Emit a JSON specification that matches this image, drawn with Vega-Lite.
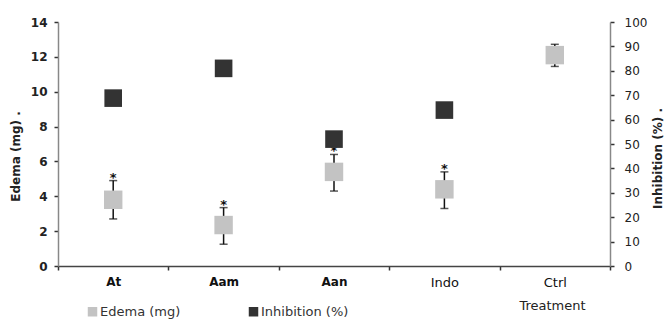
{
  "$schema": "https://vega.github.io/schema/vega-lite/v6.json",
  "width": 552,
  "height": 244,
  "autosize": {"type": "none"},
  "padding": {"left": 58, "top": 22, "right": 58, "bottom": 54},
  "background": "white",
  "config": {
    "view": {"stroke": null},
    "font": "DejaVu Sans",
    "axis": {"grid": false, "labelFont": "DejaVu Sans", "titleFont": "DejaVu Sans"}
  },
  "data": {
    "values": [
      {"treatment": "At", "edema": 3.8, "lo": 2.7, "hi": 4.9, "inhibition": 68.8, "sig": "*"},
      {"treatment": "Aam", "edema": 2.35, "lo": 1.25, "hi": 3.35, "inhibition": 81.0, "sig": "*"},
      {"treatment": "Aan", "edema": 5.4, "lo": 4.3, "hi": 6.4, "inhibition": 52.0, "sig": "*"},
      {"treatment": "Indo", "edema": 4.4, "lo": 3.3, "hi": 5.4, "inhibition": 63.9, "sig": "*"},
      {"treatment": "Ctrl", "edema": 12.1, "lo": 11.45, "hi": 12.72, "inhibition": null, "sig": ""}
    ]
  },
  "encoding": {
    "x": {
      "field": "treatment",
      "type": "nominal",
      "sort": ["At", "Aam", "Aan", "Indo", "Ctrl"],
      "scale": {"paddingInner": 0, "paddingOuter": 0},
      "axis": {
        "title": "Treatment",
        "titleFontSize": 13,
        "titleFontWeight": "normal",
        "titleColor": "#222",
        "titleX": 494,
        "titleY": 39,
        "titleAlign": "center",
        "titleBaseline": "middle",
        "labelAngle": 0,
        "labelFontSize": {"condition": {"test": "indexof(['At','Aam','Aan'], datum.value) >= 0", "value": 12}, "value": 13},
        "labelFontWeight": {"condition": {"test": "indexof(['At','Aam','Aan'], datum.value) >= 0", "value": "bold"}, "value": "normal"},
        "labelColor": "#111",
        "labelPadding": 6,
        "tickBand": "extent",
        "tickSize": 4,
        "tickColor": "#333",
        "tickWidth": 1.5,
        "domainColor": "#444",
        "domainWidth": 1.5
      }
    }
  },
  "layer": [
    {
      "encoding": {
        "y": {
          "type": "quantitative",
          "scale": {"domain": [0, 14]},
          "axis": {
            "title": "Edema (mg) .",
            "titleFontSize": 12,
            "titleFontWeight": "bold",
            "titleColor": "#222",
            "titleAngle": 270,
            "titleY": 134,
            "titleX": -36,
            "titleAlign": "center",
            "titleBaseline": "bottom",
            "values": [0, 2, 4, 6, 8, 10, 12, 14],
            "labelFontSize": 12,
            "labelFontWeight": "bold",
            "labelColor": "#222",
            "labelPadding": 7,
            "tickSize": 4,
            "tickColor": "#333",
            "tickWidth": 1.5,
            "domainColor": "#888",
            "domainWidth": 1.5
          }
        }
      },
      "layer": [
        {
          "mark": {"type": "rule", "color": "#111", "strokeWidth": 1.5},
          "encoding": {"y": {"field": "lo"}, "y2": {"field": "hi"}}
        },
        {
          "mark": {"type": "tick", "color": "#111", "size": 8, "thickness": 1.5},
          "encoding": {"y": {"field": "lo"}}
        },
        {
          "mark": {"type": "tick", "color": "#111", "size": 8, "thickness": 1.5},
          "encoding": {"y": {"field": "hi"}}
        },
        {
          "mark": {"type": "square", "opacity": 1, "size": 340},
          "encoding": {
            "y": {"field": "edema"},
            "color": {
              "datum": "Edema (mg)",
              "type": "nominal",
              "scale": {"domain": ["Edema (mg)", "Inhibition (%)"], "range": ["#c3c3c3", "#333333"]},
              "legend": {
                "title": null,
                "orient": "none",
                "legendX": 28,
                "legendY": 283,
                "direction": "horizontal",
                "symbolType": "square",
                "symbolSize": 90,
                "symbolStrokeWidth": 0,
                "symbolOpacity": 1,
                "labelFont": "DejaVu Sans",
                "labelFontSize": 13,
                "labelColor": "#333",
                "labelOffset": 1,
                "columnPadding": 66
              }
            }
          }
        },
        {
          "mark": {"type": "text", "fontSize": 13, "fontWeight": "bold", "color": "#111", "baseline": "middle", "dy": -3},
          "encoding": {"y": {"field": "hi"}, "text": {"field": "sig"}}
        }
      ]
    },
    {
      "mark": {"type": "square", "opacity": 1, "size": 310},
      "transform": [{"filter": "isValid(datum.inhibition)"}],
      "encoding": {
        "y": {
          "field": "inhibition",
          "type": "quantitative",
          "scale": {"domain": [0, 100]},
          "axis": {
            "orient": "right",
            "title": "Inhibition (%) .",
            "titleFontSize": 12,
            "titleFontWeight": "bold",
            "titleColor": "#222",
            "titleAngle": 270,
            "titleY": 136,
            "titleX": 54,
            "titleAlign": "center",
            "titleBaseline": "bottom",
            "values": [0, 10, 20, 30, 40, 50, 60, 70, 80, 90, 100],
            "labelFontSize": 12,
            "labelColor": "#222",
            "labelPadding": 10,
            "tickSize": 4,
            "tickColor": "#333",
            "tickWidth": 1.5,
            "domainColor": "#888",
            "domainWidth": 1.5
          }
        },
        "color": {"datum": "Inhibition (%)", "type": "nominal"}
      }
    }
  ],
  "resolve": {"scale": {"y": "independent"}}
}
